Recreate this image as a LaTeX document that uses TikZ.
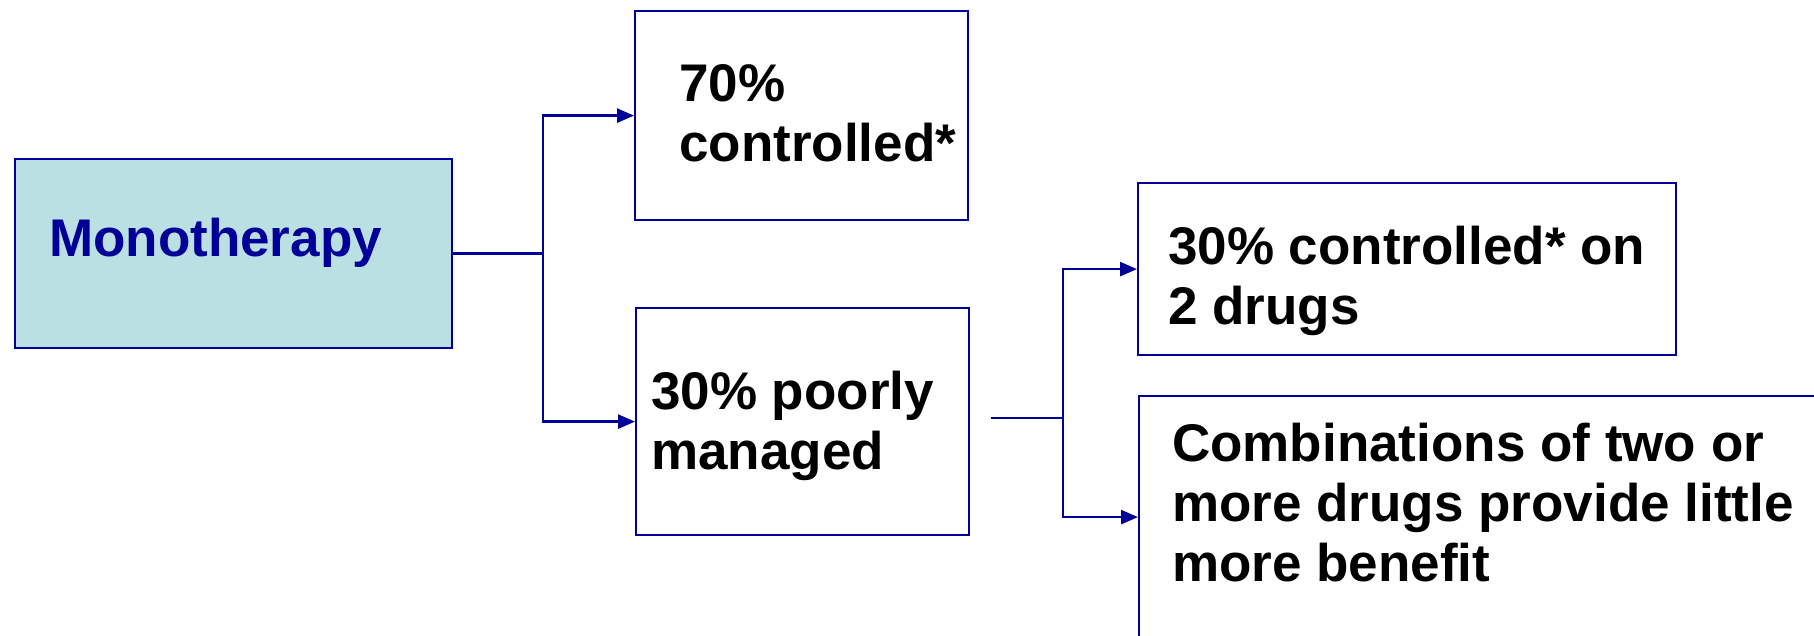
\documentclass[tikz,border=0pt]{standalone}
\usepackage{fontspec}
\setmainfont{Liberation Sans}
\usetikzlibrary{arrows.meta}
\definecolor{navy}{HTML}{000099}
\definecolor{paleblue}{HTML}{BBE0E3}
\tikzset{
  box/.style={draw=navy, line width=2.2pt, rectangle, inner sep=0pt, anchor=north west},
  label/.style={anchor=base west, inner sep=0pt, align=left, font=\fontsize{53}{60}\selectfont\bfseries},
  conn/.style={draw=navy, line width=2.6pt},
  arr/.style={conn, -{Triangle[length=17pt,width=14pt]}}
}
\begin{document}
\begin{tikzpicture}[x=1pt,y=-1pt]
\useasboundingbox (0,0) rectangle (1814,636);
% boxes
\node[box, fill=paleblue, minimum width=437pt, minimum height=189pt] (mono) at (14,158) {};
\node[box, minimum width=333pt, minimum height=209pt] (c70) at (634,10) {};
\node[box, minimum width=333pt, minimum height=227pt] (p30) at (635,307) {};
\node[box, minimum width=538pt, minimum height=172pt] (d2) at (1137,182) {};
\node[box, minimum width=700pt, minimum height=242pt] (comb) at (1138,395) {};
% texts (anchor = baseline of the last line)
\node[label, text=navy] (tmono) at (49,257) {Monotherapy};
\node[label] (t70) at (679,162) {70\%\\controlled*};
\node[label] (t30) at (651,469) {30\% poorly\\managed};
\node[label] (td2) at (1168,324) {30\% controlled* on\\2 drugs};
\node[label] (tcomb) at (1172,581) {Combinations of two or\\more drugs provide little\\more benefit};
% connectors
\coordinate (j1) at (543,0);
\coordinate (s2) at (991,418);
\coordinate (j2) at (1063,418);
\draw[conn] (mono.east) -- (mono.east -| j1);
\draw[arr] (mono.east -| j1) |- (c70.west);
\draw[arr] (mono.east -| j1) |- (p30.west);
\draw[conn] (s2) -- (j2);
\draw[arr] (j2) |- (d2.west);
\draw[arr] (j2) |- (comb.west);
\end{tikzpicture}
\end{document}
